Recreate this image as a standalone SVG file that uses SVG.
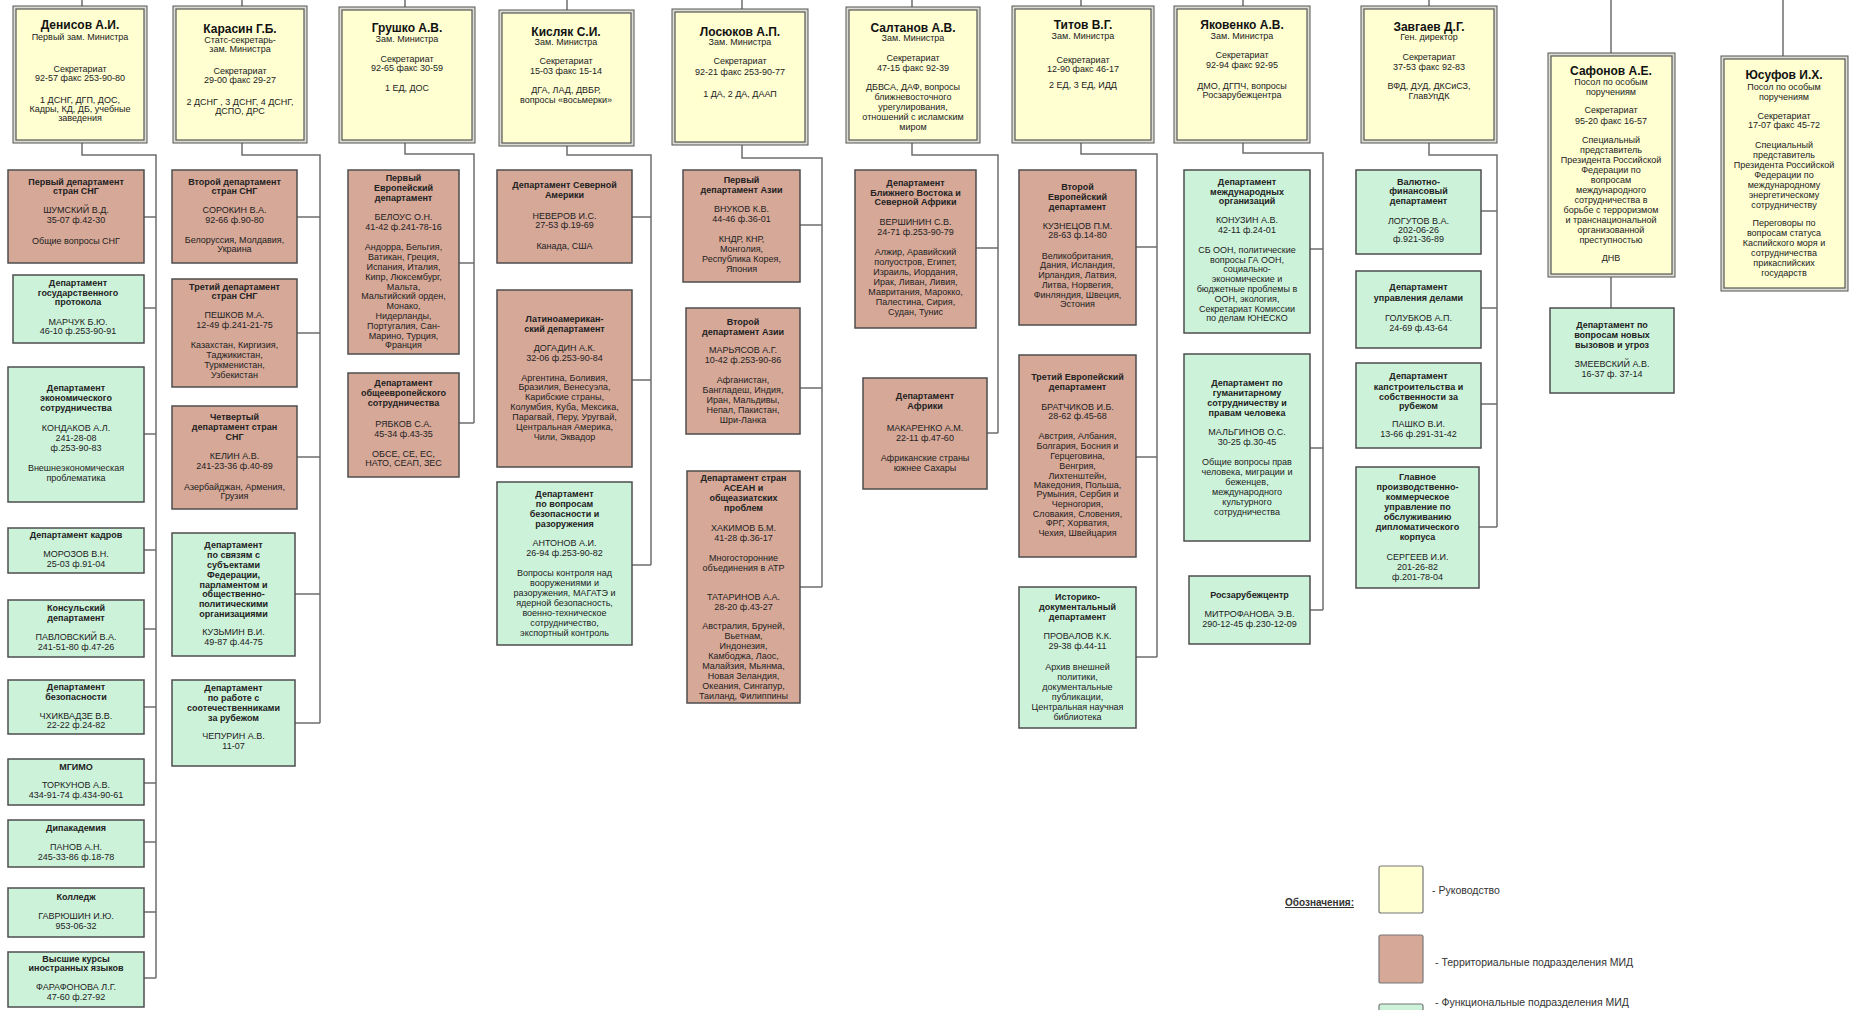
<svg xmlns="http://www.w3.org/2000/svg" width="1854" height="1010" viewBox="0 0 1854 1010">
<style>
.bg{fill:#ffffff}
.lo{fill:#dcdcd2;stroke:#555;stroke-width:1}
.li{fill:#ffffd2;stroke:#555;stroke-width:1.2}
.ter{fill:#d6a898;stroke:#4d4d4d;stroke-width:1.5}
.fun{fill:#cdf2da;stroke:#4d4d4d;stroke-width:1.5}
text{font-family:"Liberation Sans",Arial,sans-serif;font-size:9px;fill:#222;text-anchor:middle}
.b{font-weight:bold}
.n{font-size:12px;font-weight:bold;fill:#111}
#connectors path{fill:none;stroke:#6e6e6e;stroke-width:1.5}
.lg{text-anchor:start;font-size:10.5px;fill:#333}
.lgb{text-anchor:start;font-size:10px;font-weight:bold;text-decoration:underline;fill:#333}
.sq{stroke:#777;stroke-width:1.2}
</style>
<rect class="bg" x="0" y="0" width="1854" height="1010"/>

<g id="connectors">
<path d="M82,0V6 M82,143V155H156V978 M144,217H156 M144,308H156 M144,434H156 M144,550H156 M144,629H156 M144,707H156 M144,783H156 M144,842H156 M144,912H156 M144,978H156"/>
<path d="M242,0V6 M242,143V155H320V723 M297,217H320 M297,333H320 M297,457H320 M295,594H320 M295,723H320"/>
<path d="M405,0V7 M405,143V154H474V423 M459,263H474 M459,423H474"/>
<path d="M567,0V10 M567,146V155H651V565 M632,217H651 M632,380H651 M632,565H651"/>
<path d="M742,0V9 M742,145V158H822V587 M800,225H822 M800,388H822 M800,587H822"/>
<path d="M912,0V7 M912,143V155H998V433 M976,248H998 M987,433H998"/>
<path d="M1081,0V6 M1081,143V154H1157V657 M1136,247H1157 M1136,457H1157 M1136,657H1157"/>
<path d="M1243,0V6 M1243,143V153H1323V610 M1310,249H1323 M1310,448H1323 M1310,610H1323"/>
<path d="M1429,0V6 M1429,143V155H1497V527 M1481,211H1497 M1481,308H1497 M1481,404H1497 M1479,527H1497"/>
<path d="M1611,0V53 M1611,277V308"/>
<path d="M1783,0V56"/>
</g>

<!-- Leaders -->
<g id="denisov">
<rect class="lo" x="13" y="6" width="134" height="137"/><rect class="li" x="16" y="9" width="128" height="131"/>
<text><tspan class="n" x="80" y="29">Денисов А.И.</tspan><tspan x="80" y="40">Первый зам. Министра</tspan><tspan x="80" y="72">Секретариат</tspan><tspan x="80" y="81">92-57 факс 253-90-80</tspan><tspan x="80" y="103">1 ДСНГ, ДГП, ДОС,</tspan><tspan x="80" y="112">Кадры, КД, ДБ, учебные</tspan><tspan x="80" y="121">заведения</tspan></text>
</g>
<g id="karasin">
<rect class="lo" x="173" y="6" width="134" height="137"/><rect class="li" x="176" y="9" width="128" height="131"/>
<text><tspan class="n" x="240" y="33">Карасин Г.Б.</tspan><tspan x="240" y="43">Статс-секретарь-</tspan><tspan x="240" y="52">зам. Министра</tspan><tspan x="240" y="74">Секретариат</tspan><tspan x="240" y="83">29-00 факс 29-27</tspan><tspan x="240" y="105">2 ДСНГ , 3 ДСНГ, 4 ДСНГ,</tspan><tspan x="240" y="114">ДСПО, ДРС</tspan></text>
</g>
<g id="grushko">
<rect class="lo" x="339" y="7" width="136" height="136"/><rect class="li" x="342" y="10" width="130" height="130"/>
<text><tspan class="n" x="407" y="32">Грушко А.В.</tspan><tspan x="407" y="42">Зам. Министра</tspan><tspan x="407" y="62">Секретариат</tspan><tspan x="407" y="71">92-65 факс 30-59</tspan><tspan x="407" y="91">1 ЕД, ДОС</tspan></text>
</g>
<g id="kislyak">
<rect class="lo" x="499" y="10" width="135" height="136"/><rect class="li" x="502" y="13" width="129" height="130"/>
<text><tspan class="n" x="566" y="36">Кисляк С.И.</tspan><tspan x="566" y="45">Зам. Министра</tspan><tspan x="566" y="64">Секретариат</tspan><tspan x="566" y="74">15-03 факс 15-14</tspan><tspan x="566" y="93">ДГА, ЛАД, ДВБР,</tspan><tspan x="566" y="103">вопросы «восьмерки»</tspan></text>
</g>
<g id="losyukov">
<rect class="lo" x="672" y="9" width="136" height="136"/><rect class="li" x="675" y="12" width="130" height="130"/>
<text><tspan class="n" x="740" y="36">Лосюков А.П.</tspan><tspan x="740" y="45">Зам. Министра</tspan><tspan x="740" y="64">Секретариат</tspan><tspan x="740" y="75">92-21 факс 253-90-77</tspan><tspan x="740" y="97">1 ДА, 2 ДА, ДААП</tspan></text>
</g>
<g id="saltanov">
<rect class="lo" x="846" y="7" width="134" height="136"/><rect class="li" x="849" y="10" width="128" height="130"/>
<text><tspan class="n" x="913" y="32">Салтанов А.В.</tspan><tspan x="913" y="41">Зам. Министра</tspan><tspan x="913" y="61">Секретариат</tspan><tspan x="913" y="71">47-15 факс 92-39</tspan><tspan x="913" y="90">ДБВСА, ДАФ, вопросы</tspan><tspan x="913" y="100">ближневосточного</tspan><tspan x="913" y="110">урегулирования,</tspan><tspan x="913" y="120">отношений с исламским</tspan><tspan x="913" y="130">миром</tspan></text>
</g>
<g id="titov">
<rect class="lo" x="1012" y="6" width="142" height="137"/><rect class="li" x="1015" y="9" width="136" height="131"/>
<text><tspan class="n" x="1083" y="29">Титов В.Г.</tspan><tspan x="1083" y="39">Зам. Министра</tspan><tspan x="1083" y="63">Секретариат</tspan><tspan x="1083" y="72">12-90 факс 46-17</tspan><tspan x="1083" y="88">2 ЕД, 3 ЕД, ИДД</tspan></text>
</g>
<g id="yakovenko">
<rect class="lo" x="1174" y="6" width="136" height="137"/><rect class="li" x="1177" y="9" width="130" height="131"/>
<text><tspan class="n" x="1242" y="29">Яковенко А.В.</tspan><tspan x="1242" y="39">Зам. Министра</tspan><tspan x="1242" y="58">Секретариат</tspan><tspan x="1242" y="68">92-94 факс 92-95</tspan><tspan x="1242" y="89">ДМО, ДГПЧ, вопросы</tspan><tspan x="1242" y="98">Росзарубежцентра</tspan></text>
</g>
<g id="zavgaev">
<rect class="lo" x="1361" y="6" width="136" height="137"/><rect class="li" x="1364" y="9" width="130" height="131"/>
<text><tspan class="n" x="1429" y="31">Завгаев Д.Г.</tspan><tspan x="1429" y="40">Ген. директор</tspan><tspan x="1429" y="60">Секретариат</tspan><tspan x="1429" y="70">37-53 факс 92-83</tspan><tspan x="1429" y="89">ВФД, ДУД, ДКСиСЗ,</tspan><tspan x="1429" y="99">ГлавУпДК</tspan></text>
</g>
<g id="safonov">
<rect class="lo" x="1548" y="53" width="127" height="224"/><rect class="li" x="1551" y="56" width="121" height="218"/>
<text><tspan class="n" x="1611" y="75">Сафонов А.Е.</tspan><tspan x="1611" y="85">Посол по особым</tspan><tspan x="1611" y="95">поручениям</tspan><tspan x="1611" y="113">Секретариат</tspan><tspan x="1611" y="124">95-20 факс 16-57</tspan><tspan x="1611" y="143">Специальный</tspan><tspan x="1611" y="153">представитель</tspan><tspan x="1611" y="163">Президента Российской</tspan><tspan x="1611" y="173">Федерации по</tspan><tspan x="1611" y="183">вопросам</tspan><tspan x="1611" y="193">международного</tspan><tspan x="1611" y="203">сотрудничества в</tspan><tspan x="1611" y="213">борьбе с терроризмом</tspan><tspan x="1611" y="223">и транснациональной</tspan><tspan x="1611" y="233">организованной</tspan><tspan x="1611" y="243">преступностью</tspan><tspan x="1611" y="261">ДНВ</tspan></text>
</g>
<g id="yusufov">
<rect class="lo" x="1721" y="56" width="127" height="235"/><rect class="li" x="1724" y="59" width="121" height="229"/>
<text><tspan class="n" x="1784" y="79">Юсуфов И.Х.</tspan><tspan x="1784" y="90">Посол по особым</tspan><tspan x="1784" y="100">поручениям</tspan><tspan x="1784" y="119">Секретариат</tspan><tspan x="1784" y="128">17-07 факс 45-72</tspan><tspan x="1784" y="148">Специальный</tspan><tspan x="1784" y="158">представитель</tspan><tspan x="1784" y="168">Президента Российской</tspan><tspan x="1784" y="178">Федерации по</tspan><tspan x="1784" y="188">международному</tspan><tspan x="1784" y="198">энергетическому</tspan><tspan x="1784" y="208">сотрудничеству</tspan><tspan x="1784" y="226">Переговоры по</tspan><tspan x="1784" y="236">вопросам статуса</tspan><tspan x="1784" y="246">Каспийского моря и</tspan><tspan x="1784" y="256">сотрудничества</tspan><tspan x="1784" y="266">прикаспийских</tspan><tspan x="1784" y="276">государств</tspan></text>
</g>

<!-- Column 1 -->
<g id="d1-1"><rect class="ter" x="8" y="170" width="136" height="93"/>
<text><tspan class="b" x="76" y="185">Первый департамент</tspan><tspan class="b" x="76" y="194">стран СНГ</tspan><tspan x="76" y="213">ШУМСКИЙ В.Д.</tspan><tspan x="76" y="223">35-07 ф.42-30</tspan><tspan x="76" y="244">Общие вопросы СНГ</tspan></text></g>
<g id="d1-2"><rect class="fun" x="13" y="275" width="131" height="68"/>
<text><tspan class="b" x="78" y="286">Департамент</tspan><tspan class="b" x="78" y="296">государственного</tspan><tspan class="b" x="78" y="305">протокола</tspan><tspan x="78" y="325">МАРЧУК Б.Ю.</tspan><tspan x="78" y="334">46-10 ф.253-90-91</tspan></text></g>
<g id="d1-3"><rect class="fun" x="8" y="367" width="136" height="135"/>
<text><tspan class="b" x="76" y="391">Департамент</tspan><tspan class="b" x="76" y="401">экономического</tspan><tspan class="b" x="76" y="411">сотрудничества</tspan><tspan x="76" y="431">КОНДАКОВ А.Л.</tspan><tspan x="76" y="441">241-28-08</tspan><tspan x="76" y="451">ф.253-90-83</tspan><tspan x="76" y="471">Внешнеэкономическая</tspan><tspan x="76" y="481">проблематика</tspan></text></g>
<g id="d1-4"><rect class="fun" x="8" y="528" width="136" height="45"/>
<text><tspan class="b" x="76" y="538">Департамент кадров</tspan><tspan x="76" y="557">МОРОЗОВ В.Н.</tspan><tspan x="76" y="567">25-03 ф.91-04</tspan></text></g>
<g id="d1-5"><rect class="fun" x="8" y="600" width="136" height="57"/>
<text><tspan class="b" x="76" y="611">Консульский</tspan><tspan class="b" x="76" y="621">департамент</tspan><tspan x="76" y="640">ПАВЛОВСКИЙ В.А.</tspan><tspan x="76" y="650">241-51-80 ф.47-26</tspan></text></g>
<g id="d1-6"><rect class="fun" x="8" y="680" width="136" height="54"/>
<text><tspan class="b" x="76" y="690">Департамент</tspan><tspan class="b" x="76" y="700">безопасности</tspan><tspan x="76" y="719">ЧХИКВАДЗЕ В.В.</tspan><tspan x="76" y="728">22-22 ф.24-82</tspan></text></g>
<g id="d1-7"><rect class="fun" x="8" y="759" width="136" height="46"/>
<text><tspan class="b" x="76" y="770">МГИМО</tspan><tspan x="76" y="788">ТОРКУНОВ А.В.</tspan><tspan x="76" y="798">434-91-74 ф.434-90-61</tspan></text></g>
<g id="d1-8"><rect class="fun" x="8" y="820" width="136" height="47"/>
<text><tspan class="b" x="76" y="831">Дипакадемия</tspan><tspan x="76" y="850">ПАНОВ А.Н.</tspan><tspan x="76" y="860">245-33-86 ф.18-78</tspan></text></g>
<g id="d1-9"><rect class="fun" x="8" y="888" width="136" height="49"/>
<text><tspan class="b" x="76" y="900">Колледж</tspan><tspan x="76" y="919">ГАВРЮШИН И.Ю.</tspan><tspan x="76" y="929">953-06-32</tspan></text></g>
<g id="d1-10"><rect class="fun" x="8" y="952" width="136" height="55"/>
<text><tspan class="b" x="76" y="962">Высшие курсы</tspan><tspan class="b" x="76" y="971">иностранных языков</tspan><tspan x="76" y="990">ФАРАФОНОВА Л.Г.</tspan><tspan x="76" y="1000">47-60 ф.27-92</tspan></text></g>

<!-- Column 2 -->
<g id="d2-1"><rect class="ter" x="172" y="170" width="125" height="93"/>
<text><tspan class="b" x="234.5" y="185">Второй департамент</tspan><tspan class="b" x="234.5" y="194">стран СНГ</tspan><tspan x="234.5" y="213">СОРОКИН В.А.</tspan><tspan x="234.5" y="223">92-66 ф.90-80</tspan><tspan x="234.5" y="243">Белоруссия, Молдавия,</tspan><tspan x="234.5" y="252">Украина</tspan></text></g>
<g id="d2-2"><rect class="ter" x="172" y="279" width="125" height="108"/>
<text><tspan class="b" x="234.5" y="290">Третий департамент</tspan><tspan class="b" x="234.5" y="299">стран СНГ</tspan><tspan x="234.5" y="318">ПЕШКОВ М.А.</tspan><tspan x="234.5" y="328">12-49 ф.241-21-75</tspan><tspan x="234.5" y="348">Казахстан, Киргизия,</tspan><tspan x="234.5" y="358">Таджикистан,</tspan><tspan x="234.5" y="368">Туркменистан,</tspan><tspan x="234.5" y="378">Узбекистан</tspan></text></g>
<g id="d2-3"><rect class="ter" x="172" y="406" width="125" height="103"/>
<text><tspan class="b" x="234.5" y="420">Четвертый</tspan><tspan class="b" x="234.5" y="430">департамент стран</tspan><tspan class="b" x="234.5" y="440">СНГ</tspan><tspan x="234.5" y="459">КЕЛИН А.В.</tspan><tspan x="234.5" y="469">241-23-36 ф.40-89</tspan><tspan x="234.5" y="490">Азербайджан, Армения,</tspan><tspan x="234.5" y="499">Грузия</tspan></text></g>
<g id="d2-4"><rect class="fun" x="172" y="533" width="123" height="123"/>
<text><tspan class="b" x="233.5" y="548">Департамент</tspan><tspan class="b" x="233.5" y="558">по связям с</tspan><tspan class="b" x="233.5" y="568">субъектами</tspan><tspan class="b" x="233.5" y="578">Федерации,</tspan><tspan class="b" x="233.5" y="588">парламентом и</tspan><tspan class="b" x="233.5" y="597">общественно-</tspan><tspan class="b" x="233.5" y="607">политическими</tspan><tspan class="b" x="233.5" y="617">организациями</tspan><tspan x="233.5" y="635">КУЗЬМИН В.И.</tspan><tspan x="233.5" y="645">49-87 ф.44-75</tspan></text></g>
<g id="d2-5"><rect class="fun" x="172" y="680" width="123" height="86"/>
<text><tspan class="b" x="233.5" y="691">Департамент</tspan><tspan class="b" x="233.5" y="701">по работе с</tspan><tspan class="b" x="233.5" y="711">соотечественниками</tspan><tspan class="b" x="233.5" y="721">за рубежом</tspan><tspan x="233.5" y="739">ЧЕПУРИН А.В.</tspan><tspan x="233.5" y="749">11-07</tspan></text></g>

<!-- Column 3 -->
<g id="d3-1"><rect class="ter" x="348" y="170" width="111" height="184"/>
<text><tspan class="b" x="403.5" y="181">Первый</tspan><tspan class="b" x="403.5" y="191">Европейский</tspan><tspan class="b" x="403.5" y="201">департамент</tspan><tspan x="403.5" y="220">БЕЛОУС О.Н.</tspan><tspan x="403.5" y="230">41-42 ф.241-78-16</tspan><tspan x="403.5" y="250">Андорра, Бельгия,</tspan><tspan x="403.5" y="260">Ватикан, Греция,</tspan><tspan x="403.5" y="270">Испания, Италия,</tspan><tspan x="403.5" y="280">Кипр, Люксембург,</tspan><tspan x="403.5" y="290">Мальта,</tspan><tspan x="403.5" y="299">Мальтийский орден,</tspan><tspan x="403.5" y="309">Монако,</tspan><tspan x="403.5" y="319">Нидерланды,</tspan><tspan x="403.5" y="329">Португалия, Сан-</tspan><tspan x="403.5" y="339">Марино, Турция,</tspan><tspan x="403.5" y="348">Франция</tspan></text></g>
<g id="d3-2"><rect class="ter" x="348" y="373" width="111" height="104"/>
<text><tspan class="b" x="403.5" y="386">Департамент</tspan><tspan class="b" x="403.5" y="396">общеевропейского</tspan><tspan class="b" x="403.5" y="406">сотрудничества</tspan><tspan x="403.5" y="427">РЯБКОВ С.А.</tspan><tspan x="403.5" y="437">45-34 ф.43-35</tspan><tspan x="403.5" y="457">ОБСЕ, СЕ, ЕС,</tspan><tspan x="403.5" y="466">НАТО, СЕАП, ЗЕС</tspan></text></g>

<!-- Column 4 -->
<g id="d4-1"><rect class="ter" x="497" y="170" width="135" height="93"/>
<text><tspan class="b" x="564.5" y="188">Департамент Северной</tspan><tspan class="b" x="564.5" y="198">Америки</tspan><tspan x="564.5" y="219">НЕВЕРОВ И.С.</tspan><tspan x="564.5" y="228">27-53 ф.19-69</tspan><tspan x="564.5" y="249">Канада, США</tspan></text></g>
<g id="d4-2"><rect class="ter" x="497" y="290" width="135" height="177"/>
<text><tspan class="b" x="564.5" y="322">Латиноамерикан-</tspan><tspan class="b" x="564.5" y="332">ский департамент</tspan><tspan x="564.5" y="351">ДОГАДИН А.К.</tspan><tspan x="564.5" y="361">32-06 ф.253-90-84</tspan><tspan x="564.5" y="381">Аргентина, Боливия,</tspan><tspan x="564.5" y="390">Бразилия, Венесуэла,</tspan><tspan x="564.5" y="400">Карибские страны,</tspan><tspan x="564.5" y="410">Колумбия, Куба, Мексика,</tspan><tspan x="564.5" y="420">Парагвай, Перу, Уругвай,</tspan><tspan x="564.5" y="430">Центральная Америка,</tspan><tspan x="564.5" y="440">Чили, Эквадор</tspan></text></g>
<g id="d4-3"><rect class="fun" x="497" y="482" width="135" height="163"/>
<text><tspan class="b" x="564.5" y="497">Департамент</tspan><tspan class="b" x="564.5" y="507">по вопросам</tspan><tspan class="b" x="564.5" y="517">безопасности и</tspan><tspan class="b" x="564.5" y="527">разоружения</tspan><tspan x="564.5" y="546">АНТОНОВ А.И.</tspan><tspan x="564.5" y="556">26-94 ф.253-90-82</tspan><tspan x="564.5" y="576">Вопросы контроля над</tspan><tspan x="564.5" y="586">вооружениями и</tspan><tspan x="564.5" y="596">разоружения, МАГАТЭ и</tspan><tspan x="564.5" y="606">ядерной безопасность,</tspan><tspan x="564.5" y="616">военно-техническое</tspan><tspan x="564.5" y="626">сотрудничество,</tspan><tspan x="564.5" y="636">экспортный контроль</tspan></text></g>

<!-- Column 5 -->
<g id="d5-1"><rect class="ter" x="683" y="170" width="117" height="112"/>
<text><tspan class="b" x="741.5" y="183">Первый</tspan><tspan class="b" x="741.5" y="193">департамент Азии</tspan><tspan x="741.5" y="212">ВНУКОВ К.В.</tspan><tspan x="741.5" y="222">44-46 ф.36-01</tspan><tspan x="741.5" y="242">КНДР, КНР,</tspan><tspan x="741.5" y="252">Монголия,</tspan><tspan x="741.5" y="262">Республика Корея,</tspan><tspan x="741.5" y="272">Япония</tspan></text></g>
<g id="d5-2"><rect class="ter" x="686" y="308" width="114" height="126"/>
<text><tspan class="b" x="743" y="325">Второй</tspan><tspan class="b" x="743" y="335">департамент Азии</tspan><tspan x="743" y="353">МАРЬЯСОВ А.Г.</tspan><tspan x="743" y="363">10-42 ф.253-90-86</tspan><tspan x="743" y="383">Афганистан,</tspan><tspan x="743" y="393">Бангладеш, Индия,</tspan><tspan x="743" y="403">Иран, Мальдивы,</tspan><tspan x="743" y="413">Непал, Пакистан,</tspan><tspan x="743" y="423">Шри-Ланка</tspan></text></g>
<g id="d5-3"><rect class="ter" x="687" y="471" width="113" height="232"/>
<text><tspan class="b" x="743.5" y="481">Департамент стран</tspan><tspan class="b" x="743.5" y="491">АСЕАН и</tspan><tspan class="b" x="743.5" y="501">общеазиатских</tspan><tspan class="b" x="743.5" y="511">проблем</tspan><tspan x="743.5" y="531">ХАКИМОВ Б.М.</tspan><tspan x="743.5" y="541">41-28 ф.36-17</tspan><tspan x="743.5" y="561">Многосторонние</tspan><tspan x="743.5" y="571">объединения в АТР</tspan><tspan x="743.5" y="600">ТАТАРИНОВ А.А.</tspan><tspan x="743.5" y="610">28-20 ф.43-27</tspan><tspan x="743.5" y="629">Австралия, Бруней,</tspan><tspan x="743.5" y="639">Вьетнам,</tspan><tspan x="743.5" y="649">Индонезия,</tspan><tspan x="743.5" y="659">Камбоджа, Лаос,</tspan><tspan x="743.5" y="669">Малайзия, Мьянма,</tspan><tspan x="743.5" y="679">Новая Зеландия,</tspan><tspan x="743.5" y="689">Океания, Сингапур,</tspan><tspan x="743.5" y="699">Таиланд, Филиппины</tspan></text></g>

<!-- Column 6 -->
<g id="d6-1"><rect class="ter" x="855" y="170" width="121" height="158"/>
<text><tspan class="b" x="915.5" y="186">Департамент</tspan><tspan class="b" x="915.5" y="196">Ближнего Востока и</tspan><tspan class="b" x="915.5" y="205">Северной Африки</tspan><tspan x="915.5" y="225">ВЕРШИНИН С.В.</tspan><tspan x="915.5" y="235">24-71 ф.253-90-79</tspan><tspan x="915.5" y="255">Алжир, Аравийский</tspan><tspan x="915.5" y="265">полуостров, Египет,</tspan><tspan x="915.5" y="275">Израиль, Иордания,</tspan><tspan x="915.5" y="285">Ирак, Ливан, Ливия,</tspan><tspan x="915.5" y="295">Мавритания, Марокко,</tspan><tspan x="915.5" y="305">Палестина, Сирия,</tspan><tspan x="915.5" y="315">Судан, Тунис</tspan></text></g>
<g id="d6-2"><rect class="ter" x="863" y="378" width="124" height="111"/>
<text><tspan class="b" x="925" y="399">Департамент</tspan><tspan class="b" x="925" y="409">Африки</tspan><tspan x="925" y="431">МАКАРЕНКО А.М.</tspan><tspan x="925" y="441">22-11 ф.47-60</tspan><tspan x="925" y="461">Африканские страны</tspan><tspan x="925" y="471">южнее Сахары</tspan></text></g>

<!-- Column 7 -->
<g id="d7-1"><rect class="ter" x="1019" y="170" width="117" height="155"/>
<text><tspan class="b" x="1077.5" y="190">Второй</tspan><tspan class="b" x="1077.5" y="200">Европейский</tspan><tspan class="b" x="1077.5" y="210">департамент</tspan><tspan x="1077.5" y="229">КУЗНЕЦОВ П.М.</tspan><tspan x="1077.5" y="238">28-63 ф.14-80</tspan><tspan x="1077.5" y="259">Великобритания,</tspan><tspan x="1077.5" y="268">Дания, Исландия,</tspan><tspan x="1077.5" y="278">Ирландия, Латвия,</tspan><tspan x="1077.5" y="288">Литва, Норвегия,</tspan><tspan x="1077.5" y="298">Финляндия, Швеция,</tspan><tspan x="1077.5" y="307">Эстония</tspan></text></g>
<g id="d7-2"><rect class="ter" x="1019" y="355" width="117" height="202"/>
<text><tspan class="b" x="1077.5" y="380">Третий Европейский</tspan><tspan class="b" x="1077.5" y="390">департамент</tspan><tspan x="1077.5" y="410">БРАТЧИКОВ И.Б.</tspan><tspan x="1077.5" y="419">28-62 ф.45-68</tspan><tspan x="1077.5" y="439">Австрия, Албания,</tspan><tspan x="1077.5" y="449">Болгария, Босния и</tspan><tspan x="1077.5" y="459">Герцеговина,</tspan><tspan x="1077.5" y="469">Венгрия,</tspan><tspan x="1077.5" y="479">Лихтенштейн,</tspan><tspan x="1077.5" y="488">Македония, Польша,</tspan><tspan x="1077.5" y="497">Румыния, Сербия и</tspan><tspan x="1077.5" y="507">Черногория,</tspan><tspan x="1077.5" y="517">Словакия, Словения,</tspan><tspan x="1077.5" y="526">ФРГ, Хорватия,</tspan><tspan x="1077.5" y="536">Чехия, Швейцария</tspan></text></g>
<g id="d7-3"><rect class="fun" x="1019" y="587" width="117" height="141"/>
<text><tspan class="b" x="1077.5" y="600">Историко-</tspan><tspan class="b" x="1077.5" y="610">документальный</tspan><tspan class="b" x="1077.5" y="620">департамент</tspan><tspan x="1077.5" y="639">ПРОВАЛОВ К.К.</tspan><tspan x="1077.5" y="649">29-38 ф.44-11</tspan><tspan x="1077.5" y="670">Архив внешней</tspan><tspan x="1077.5" y="680">политики,</tspan><tspan x="1077.5" y="690">документальные</tspan><tspan x="1077.5" y="700">публикации,</tspan><tspan x="1077.5" y="710">Центральная научная</tspan><tspan x="1077.5" y="720">библиотека</tspan></text></g>

<!-- Column 8 -->
<g id="d8-1"><rect class="fun" x="1184" y="170" width="126" height="163"/>
<text><tspan class="b" x="1247" y="185">Департамент</tspan><tspan class="b" x="1247" y="195">международных</tspan><tspan class="b" x="1247" y="204">организаций</tspan><tspan x="1247" y="223">КОНУЗИН А.В.</tspan><tspan x="1247" y="233">42-11 ф.24-01</tspan><tspan x="1247" y="253">СБ ООН, политические</tspan><tspan x="1247" y="263">вопросы ГА ООН,</tspan><tspan x="1247" y="272">социально-</tspan><tspan x="1247" y="282">экономические и</tspan><tspan x="1247" y="292">бюджетные проблемы в</tspan><tspan x="1247" y="302">ООН, экология,</tspan><tspan x="1247" y="312">Секретариат Комиссии</tspan><tspan x="1247" y="321">по делам ЮНЕСКО</tspan></text></g>
<g id="d8-2"><rect class="fun" x="1184" y="354" width="126" height="187"/>
<text><tspan class="b" x="1247" y="386">Департамент по</tspan><tspan class="b" x="1247" y="396">гуманитарному</tspan><tspan class="b" x="1247" y="406">сотрудничеству и</tspan><tspan class="b" x="1247" y="416">правам человека</tspan><tspan x="1247" y="435">МАЛЬГИНОВ О.С.</tspan><tspan x="1247" y="445">30-25 ф.30-45</tspan><tspan x="1247" y="465">Общие вопросы прав</tspan><tspan x="1247" y="475">человека, миграции и</tspan><tspan x="1247" y="485">беженцев,</tspan><tspan x="1247" y="495">международного</tspan><tspan x="1247" y="505">культурного</tspan><tspan x="1247" y="515">сотрудничества</tspan></text></g>
<g id="d8-3"><rect class="fun" x="1189" y="576" width="121" height="68"/>
<text><tspan class="b" x="1249.5" y="598">Росзарубежцентр</tspan><tspan x="1249.5" y="617">МИТРОФАНОВА Э.В.</tspan><tspan x="1249.5" y="627">290-12-45 ф.230-12-09</tspan></text></g>

<!-- Column 9 -->
<g id="d9-1"><rect class="fun" x="1356" y="170" width="125" height="84"/>
<text><tspan class="b" x="1418.5" y="185">Валютно-</tspan><tspan class="b" x="1418.5" y="194">финансовый</tspan><tspan class="b" x="1418.5" y="204">департамент</tspan><tspan x="1418.5" y="224">ЛОГУТОВ В.А.</tspan><tspan x="1418.5" y="233">202-06-26</tspan><tspan x="1418.5" y="242">ф.921-36-89</tspan></text></g>
<g id="d9-2"><rect class="fun" x="1356" y="271" width="125" height="77"/>
<text><tspan class="b" x="1418.5" y="290">Департамент</tspan><tspan class="b" x="1418.5" y="301">управления делами</tspan><tspan x="1418.5" y="321">ГОЛУБКОВ А.П.</tspan><tspan x="1418.5" y="331">24-69 ф.43-64</tspan></text></g>
<g id="d9-3"><rect class="fun" x="1356" y="363" width="125" height="85"/>
<text><tspan class="b" x="1418.5" y="379">Департамент</tspan><tspan class="b" x="1418.5" y="390">капстроительства и</tspan><tspan class="b" x="1418.5" y="400">собственности за</tspan><tspan class="b" x="1418.5" y="409">рубежом</tspan><tspan x="1418.5" y="427">ПАШКО В.И.</tspan><tspan x="1418.5" y="437">13-66 ф.291-31-42</tspan></text></g>
<g id="d9-4"><rect class="fun" x="1356" y="467" width="123" height="121"/>
<text><tspan class="b" x="1417.5" y="480">Главное</tspan><tspan class="b" x="1417.5" y="490">производственно-</tspan><tspan class="b" x="1417.5" y="500">коммерческое</tspan><tspan class="b" x="1417.5" y="510">управление по</tspan><tspan class="b" x="1417.5" y="520">обслуживанию</tspan><tspan class="b" x="1417.5" y="530">дипломатического</tspan><tspan class="b" x="1417.5" y="540">корпуса</tspan><tspan x="1417.5" y="560">СЕРГЕЕВ И.И.</tspan><tspan x="1417.5" y="570">201-26-82</tspan><tspan x="1417.5" y="580">ф.201-78-04</tspan></text></g>

<g id="d10-1"><rect class="fun" x="1550" y="308" width="124" height="85"/>
<text><tspan class="b" x="1612" y="328">Департамент по</tspan><tspan class="b" x="1612" y="338">вопросам новых</tspan><tspan class="b" x="1612" y="348">вызовов и угроз</tspan><tspan x="1612" y="367">ЗМЕЕВСКИЙ А.В.</tspan><tspan x="1612" y="377">16-37 ф. 37-14</tspan></text></g>

<!-- Legend -->
<g id="legend">
<text class="lgb" x="1285" y="906">Обозначения:</text>
<rect class="sq" x="1379" y="866" width="44" height="47" rx="2" fill="#ffffd2"/>
<text class="lg" x="1432" y="894">- Руководство</text>
<rect class="sq" x="1379" y="935" width="44" height="48" rx="2" fill="#d6a898"/>
<text class="lg" x="1435" y="966">- Территориальные подразделения МИД</text>
<rect class="sq" x="1379" y="1004" width="44" height="48" rx="2" fill="#cdf2da"/>
<text class="lg" x="1435" y="1006">- Функциональные подразделения МИД</text>
</g>
</svg>
